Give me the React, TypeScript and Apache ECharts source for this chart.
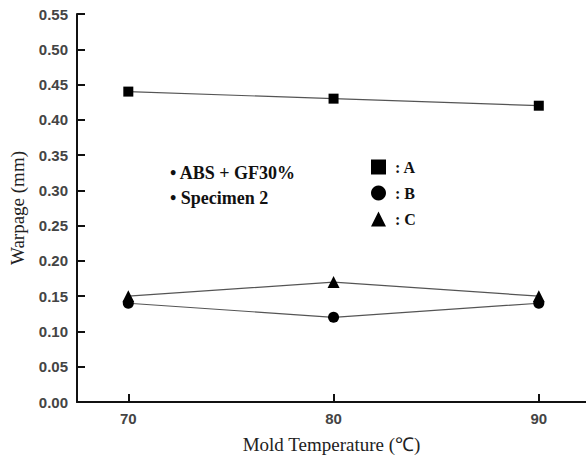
import React, { useEffect, useRef } from "react";
import * as echarts from "echarts";

const temperatures = [70, 80, 90];
const seriesA = [0.44, 0.43, 0.42];
const seriesB = [0.14, 0.12, 0.14];
const seriesC = [0.15, 0.17, 0.15];
const xTickValues = [70, 80, 90];
const noteLines = ["• ABS + GF30%", "• Specimen 2"];

export default function App() {
  const ref = useRef<HTMLDivElement>(null);
  useEffect(() => {
    if (!ref.current) return;
    const chart = echarts.init(ref.current, null, { renderer: "svg" });
    const mk = (name: string, vals: number[], symbol: string, size: number) => ({
      name,
      type: "line",
      data: temperatures.map((t, i) => [t, vals[i]]),
      symbol,
      symbolSize: size,
      itemStyle: { color: "#000" },
      lineStyle: { color: "#555", width: 1.2 },
      z: 3,
    });
    chart.setOption({
      animation: false,
      backgroundColor: "#fff",
      grid: { left: 70, right: 0, top: 14, bottom: 57 },
      xAxis: {
        type: "value",
        min: 67.5,
        max: 92.3,
        name: "Mold Temperature (℃)",
        nameLocation: "middle",
        nameGap: 33,
        nameTextStyle: { fontFamily: "Liberation Serif", fontSize: 19, color: "#222" },
        axisLine: { lineStyle: { color: "#111", width: 2 } },
        axisTick: { inside: true, length: 8, customValues: xTickValues, lineStyle: { color: "#111", width: 2 } },
        axisLabel: { customValues: xTickValues, fontFamily: "Liberation Sans", fontSize: 15, fontWeight: "bold", color: "#444", margin: 9 },
        splitLine: { show: false },
      },
      yAxis: {
        type: "value",
        min: 0,
        max: 0.55,
        interval: 0.05,
        name: "Warpage (mm)",
        nameLocation: "middle",
        nameGap: 50,
        nameTextStyle: { fontFamily: "Liberation Serif", fontSize: 19, color: "#222" },
        axisLine: { show: true, lineStyle: { color: "#111", width: 2 } },
        axisTick: { show: true, inside: true, length: 8, lineStyle: { color: "#111", width: 2 } },
        axisLabel: {
          fontFamily: "Liberation Sans",
          fontSize: 15,
          fontWeight: "bold",
          color: "#444",
          margin: 9,
          formatter: (v: number) => v.toFixed(2),
        },
        splitLine: { show: false },
      },
      legend: {
        orient: "vertical",
        left: 366,
        top: 154,
        itemWidth: 15,
        itemHeight: 15,
        itemGap: 10,
        textStyle: { fontFamily: "Liberation Serif", fontSize: 16, fontWeight: "bold", color: "#111", padding: [0, 0, 0, 4] },
        formatter: (n: string) => ": " + n,
        data: [
          { name: "A", icon: "rect" },
          { name: "B", icon: "circle" },
          { name: "C", icon: "triangle" },
        ],
      },
      graphic: noteLines.map((t, i) => ({
        type: "text",
        left: 170,
        top: 164 + i * 25,
        style: { text: t, fontFamily: "Liberation Serif", fontSize: 18, fontWeight: "bold", fill: "#111" },
      })),
      series: [mk("A", seriesA, "rect", 10), mk("B", seriesB, "circle", 11), mk("C", seriesC, "triangle", 12)],
    });
    return () => chart.dispose();
  }, []);
  return <div ref={ref} style={{ width: 586, height: 459, position: "absolute", left: 0, top: 0 }} />;
}
